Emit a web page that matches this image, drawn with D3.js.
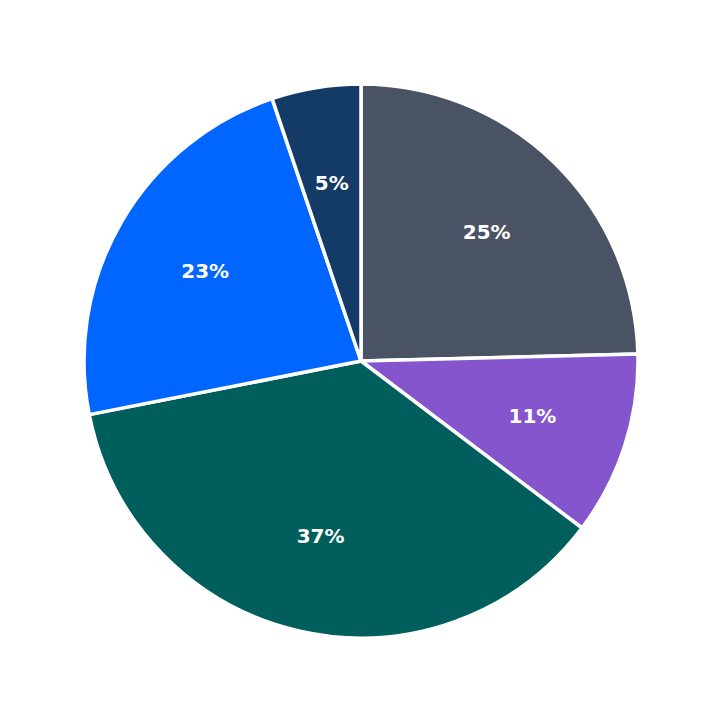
<!DOCTYPE html>
<html>
<head>
<meta charset="utf-8">
<script src="https://d3js.org/d3.v7.min.js"></script>
<style>
  body { margin: 0; background: #fff; }
</style>
</head>
<body>
<script>
const categories = ['A', 'B', 'C', 'D', 'E'];
const values = [24.6, 10.7, 36.6, 22.9, 5.2];
const labels = ['25%', '11%', '37%', '23%', '5%'];
const colors = ['#4a5363', '#8455cc', '#005e5c', '#0066ff', '#143a66'];

const width = 723, height = 723, radius = 277;

const svg = d3.select('body').append('svg')
  .attr('width', width).attr('height', height);
const g = svg.append('g').attr('transform', 'translate(361,361)');

const pie = d3.pie().sort(null).value(d => d.v);
const arcs = pie(categories.map((c, i) => ({c, v: values[i], i})));
const arc = d3.arc().innerRadius(0).outerRadius(radius);
const labelArc = d3.arc().innerRadius(radius * 0.65).outerRadius(radius * 0.65);

g.selectAll('path')
  .data(arcs)
  .enter().append('path')
  .attr('d', arc)
  .attr('fill', d => colors[d.data.i])
  .attr('stroke', '#fff')
  .attr('stroke-width', 3.5)
  .attr('stroke-linejoin', 'round');

g.selectAll('text')
  .data(arcs)
  .enter().append('text')
  .attr('transform', d => `translate(${labelArc.centroid(d)})`)
  .attr('text-anchor', 'middle')
  .attr('dy', '0.35em')
  .attr('fill', '#fff')
  .attr('font-family', 'DejaVu Sans')
  .attr('font-weight', 'bold')
  .attr('font-size', 20)
  .text(d => labels[d.data.i]);
</script>
</body>
</html>
